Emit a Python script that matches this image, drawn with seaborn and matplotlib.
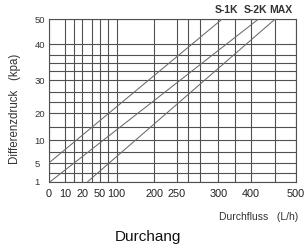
import numpy as np
import pandas as pd
import matplotlib
matplotlib.use('Agg')
import matplotlib.pyplot as plt
import seaborn as sns

# axis ticks (labelled) and the extra unlabelled grid lines
flow_ticks = [0, 10, 20, 50, 100, 200, 250, 300, 400, 500]
flow_minor = [15, 36, 75, 263, 278, 351, 453]
dp_ticks = [1, 5, 10, 20, 30, 40, 50]
dp_minor = [3, 7.5, 15, 23.5, 26.5, 32.5, 34.7, 37]

# the three valve curves, start and end point
series = ['S-1K', 'S-2K', 'MAX']
s1k_flow = [0, 311]
s1k_dp = [5, 50]
s2k_flow = [1, 416]
s2k_dp = [1, 50]
max_flow = [29, 453]
max_dp = [1, 50]

# the original axes are not linear -> position of each tick (pixels in the picture)
flow_px = [48.5, 65, 82.3, 100, 116.7, 154.3, 176.7, 218.3, 251, 296]
dp_px = [68.3, 86.7, 110, 136.7, 170, 205.7, 230.7]


def fx(v):
    return np.interp(v, flow_ticks, flow_px)


def fx_inv(p):
    return np.interp(p, flow_px, flow_ticks)


def fy(v):
    return np.interp(v, dp_ticks, dp_px)


def fy_inv(p):
    return np.interp(p, dp_px, dp_ticks)


df = pd.DataFrame({
    'flow': s1k_flow + s2k_flow + max_flow,
    'dp': s1k_dp + s2k_dp + max_dp,
    'series': [s for s in series for _ in range(2)],
})

sns.set_style('white')
plt.rcParams['font.family'] = ['Liberation Sans', 'DejaVu Sans']

fig = plt.figure(figsize=(3.04, 2.5), dpi=100)
ax = fig.add_axes([48.5 / 304, 1 - 181.7 / 250, (296 - 48.5) / 304, (181.7 - 19.3) / 250])

ax.set_xscale('function', functions=(fx, fx_inv))
ax.set_yscale('function', functions=(fy, fy_inv))

sns.lineplot(data=df, x='flow', y='dp', hue='series', palette=['#6a6a6a'] * 3,
             linewidth=0.75, legend=False, ax=ax, zorder=3)

ax.set_xlim(0, 500)
ax.set_ylim(1, 50)
ax.set_xticks(flow_ticks)
ax.set_xticks(flow_minor, minor=True)
ax.set_yticks(dp_ticks)
ax.set_yticks(dp_minor, minor=True)
ax.set_xticklabels([str(t) for t in flow_ticks])
ax.set_yticklabels([str(t) for t in dp_ticks])
ax.grid(which='both', color='#505050', linewidth=0.8)
ax.set_axisbelow(True)
ax.tick_params(which='both', length=0)
ax.tick_params(axis='x', pad=5, labelsize=7.8, labelcolor='#222222')
ax.tick_params(axis='y', pad=10, labelsize=6.8, labelcolor='#333333')
plt.setp(ax.get_yticklabels(), ha='left')
for sp in ax.spines.values():
    sp.set_color('#505050')
    sp.set_linewidth(0.8)
ax.set_xlabel('')
ax.set_ylabel('')

# curve names above the top ends
label_dx = [5, -3, 6]
for name, fl, dx in zip(series, [s1k_flow[1], s2k_flow[1], max_flow[1]], label_dx):
    ax.annotate(name, xy=(fl, 50), xytext=(dx, 4.5), textcoords='offset pixels',
                ha='center', va='bottom', fontsize=7.5, fontweight='bold', color='#333333')

fig.text(15 / 304, 1 - 109 / 250, 'Differenzdruck   (kpa)', rotation=90, ha='center', va='center',
         fontsize=8.3, color='#333333')
fig.text(298 / 304, 1 - 217 / 250, 'Durchfluss   (L/h)', ha='right', va='center',
         fontsize=7.5, color='#333333')
fig.text(148 / 304, 1 - 236.5 / 250, 'Durchang', ha='center', va='center',
         fontsize=11, color='#111111')

plt.savefig('out.png', dpi=100)
